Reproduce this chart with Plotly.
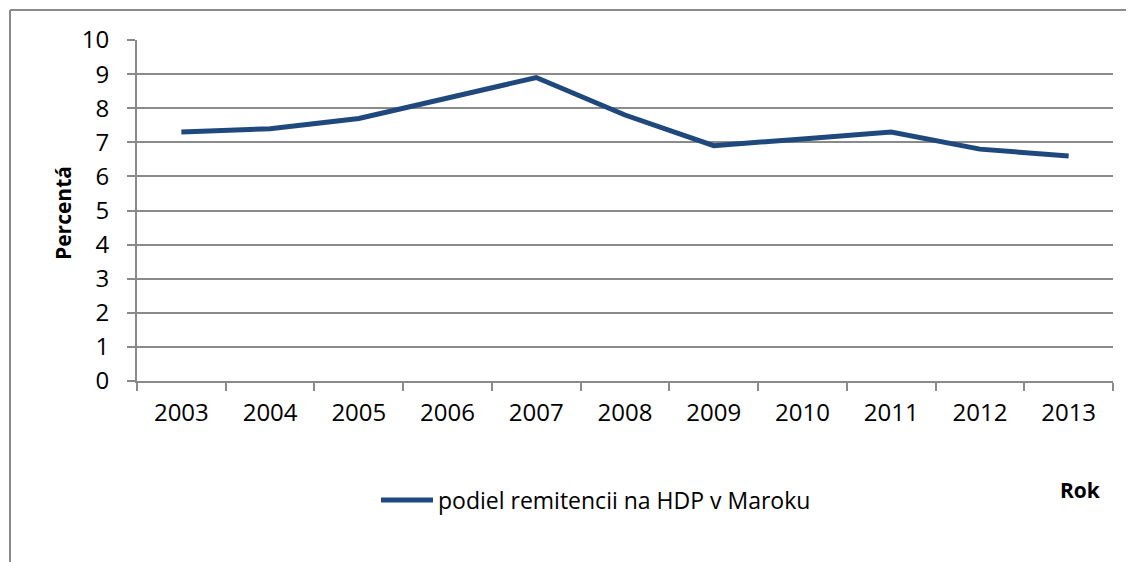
import plotly.graph_objects as go

years = ["2003", "2004", "2005", "2006", "2007", "2008", "2009", "2010", "2011", "2012", "2013"]
values = [7.3, 7.4, 7.7, 8.3, 8.9, 7.8, 6.9, 7.1, 7.3, 6.8, 6.6]
series_name = "podiel remitencii na HDP v Maroku"
y_title = "Percentá"
x_title = "Rok"

OFF = 8  # page body margin
PAGE_W, PAGE_H = 1134, 562
W, H = PAGE_W - OFF, PAGE_H - OFF
# plot area in page pixels
PL, PR, PT, PB = 137, 1113, 40, 381
L, T = PL - OFF, PT - OFF
R = W - (PR - OFF)
B = H - (PB - OFF)
pw, ph = PR - PL, PB - PT

def px_x(p):
    return (p - PL) / pw

def px_y(p):
    return (PB - p) / ph

grid = "#8a8a8a"
font = "Open Sans"

fig = go.Figure()
fig.add_trace(go.Scatter(
    x=years, y=values, mode="lines", name=series_name,
    line=dict(color="#1F497D", width=5),
))

fig.update_layout(
    width=W, height=H,
    margin=dict(l=L, r=R, t=T, b=B, autoexpand=False),
    paper_bgcolor="white", plot_bgcolor="white",
    font=dict(family=font, size=24, color="#000000"),
    showlegend=True,
    legend=dict(x=px_x(596), y=px_y(500), xanchor="center", yanchor="middle",
                font=dict(size=23), itemwidth=52, bgcolor="rgba(0,0,0,0)"),
    xaxis=dict(type="category", showgrid=False, showline=True, linecolor=grid, linewidth=2,
               ticks="outside", tickson="boundaries", ticklen=8, tickcolor=grid, tickwidth=2,
               ticklabelstandoff=9, range=[-0.5, 10.5], fixedrange=True),
    yaxis=dict(range=[0, 10], dtick=1, showgrid=True, gridcolor=grid, gridwidth=2,
               showline=True, linecolor=grid, linewidth=2, zeroline=False,
               ticks="outside", ticklen=8, tickcolor=grid, tickwidth=2,
               ticklabelstandoff=13),
    annotations=[
        dict(text=y_title, x=px_x(63), y=px_y(213), xref="paper", yref="paper",
             showarrow=False, textangle=-90, font=dict(family=font, size=21, color="#000"),
             xanchor="center", yanchor="middle"),
        dict(text=x_title, x=px_x(1080), y=px_y(490), xref="paper", yref="paper",
             showarrow=False, font=dict(family=font, size=21, color="#000"),
             xanchor="center", yanchor="middle"),
    ],
    shapes=[
        dict(type="line", xref="paper", yref="paper", x0=px_x(10), x1=px_x(1140),
             y0=px_y(10), y1=px_y(10), line=dict(color=grid, width=2)),
        dict(type="line", xref="paper", yref="paper", x0=px_x(10), x1=px_x(10),
             y0=px_y(10), y1=px_y(570), line=dict(color=grid, width=2)),
    ],
)
for a in fig.layout.annotations:
    a.font.weight = "bold"

fig.write_html("out.html")
